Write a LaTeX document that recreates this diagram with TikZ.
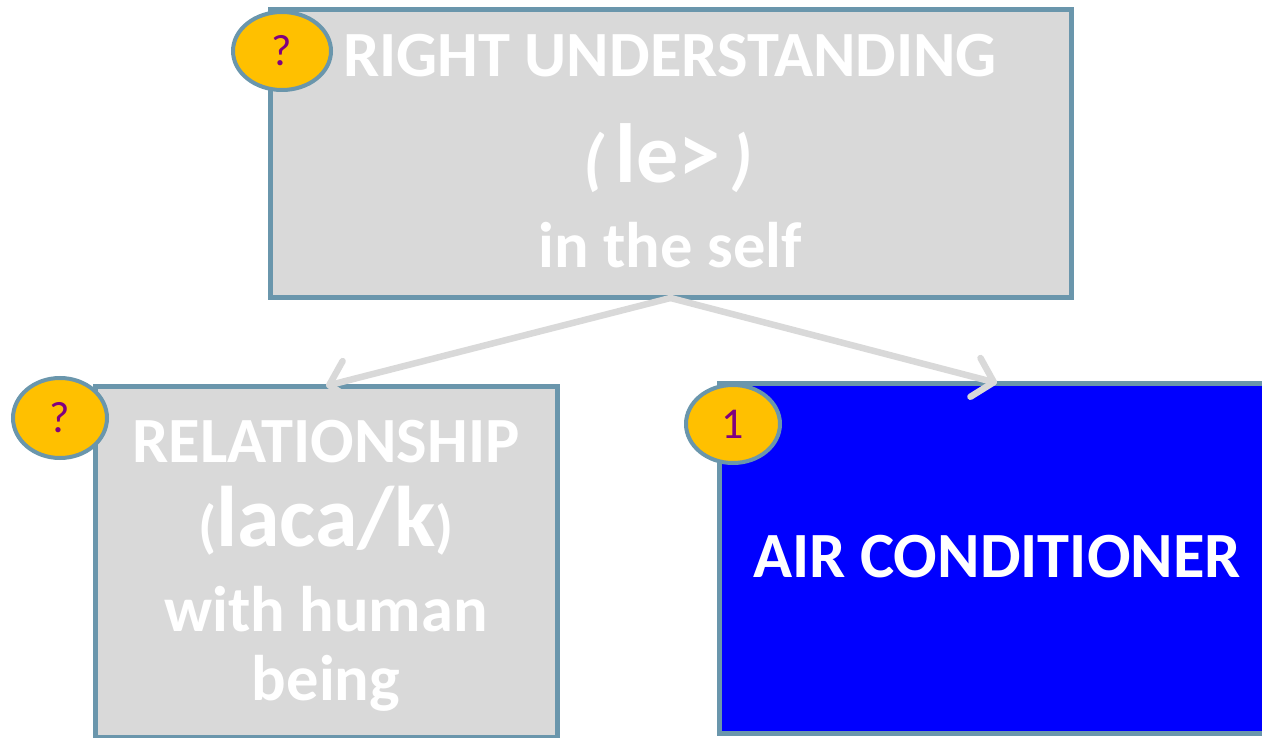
\documentclass[tikz,border=0pt]{standalone}
\usepackage{fontspec}
\setmainfont{Carlito}
\usetikzlibrary{shapes.geometric,arrows.meta}
\definecolor{edgeblue}{RGB}{106,150,172}
\definecolor{boxgrey}{RGB}{217,217,217}
\definecolor{badgegold}{RGB}{255,192,0}
\definecolor{badgetext}{RGB}{128,0,128}
\definecolor{acblue}{RGB}{0,0,255}
\tikzset{
  box/.style={draw=edgeblue, line width=5pt, rectangle, inner sep=0pt, outer sep=0pt},
  badge/.style={ellipse, draw=edgeblue, line width=4pt, fill=badgegold, inner sep=0pt, outer sep=0pt,
    font=\fontsize{44}{50}\selectfont, text=badgetext},
  label/.style={anchor=base, text=white, inner sep=0pt, font=\bfseries\fontsize{64.5}{70}\selectfont},
  arr/.style={draw=boxgrey, line width=6.5pt, line cap=round, -{Straight Barb[length=19pt,width=40pt,round]}}
}
\begin{document}
\begin{tikzpicture}[x=1pt,y=-1pt]
\useasboundingbox (0,0) rectangle (1262,738);
% boxes
\node[box, fill=boxgrey, minimum width=801pt, minimum height=288pt] (top) at (670.5,154) {};
\node[box, fill=boxgrey, minimum width=462pt, minimum height=351pt] (rel) at (326,561.5) {};
\node[box, fill=acblue, minimum width=556pt, minimum height=350pt] (ac) at (997,558) {};
% texts
\node[label] (t1) at (670,77) {RIGHT UNDERSTANDING};
\node[label] (t2) at (668,183) {{\itshape\fontsize{68}{70}\selectfont(}\,{\fontsize{84}{90}\selectfont le>}\,{\itshape\fontsize{68}{70}\selectfont)}};
\node[label] (t3) at (670,268) {in the self};
\node[label] (r1) at (326,462) {RELATIONSHIP};
\node[label] (r2) at (326,546) {{\fontsize{58}{60}\selectfont(}{\fontsize{86}{90}\selectfont laca/k}{\fontsize{58}{60}\selectfont)}};
\node[label] (r3) at (326,631) {with human};
\node[label] (r4) at (326,700) {being};
\node[label] (a1) at (997,577) {AIR CONDITIONER};
% arrows
\draw[arr] (top.south) -- (rel.north);
\draw[arr] (top.south) -- (ac.north);
% badges
\node[badge, minimum width=98pt, minimum height=78pt] (b1) at (282,51) {?};
\node[badge, minimum width=94pt, minimum height=80pt] (b2) at (60,418) {?};
\node[badge, minimum width=94pt, minimum height=78pt] (b3) at (733,424) {1};
\end{tikzpicture}
\end{document}
